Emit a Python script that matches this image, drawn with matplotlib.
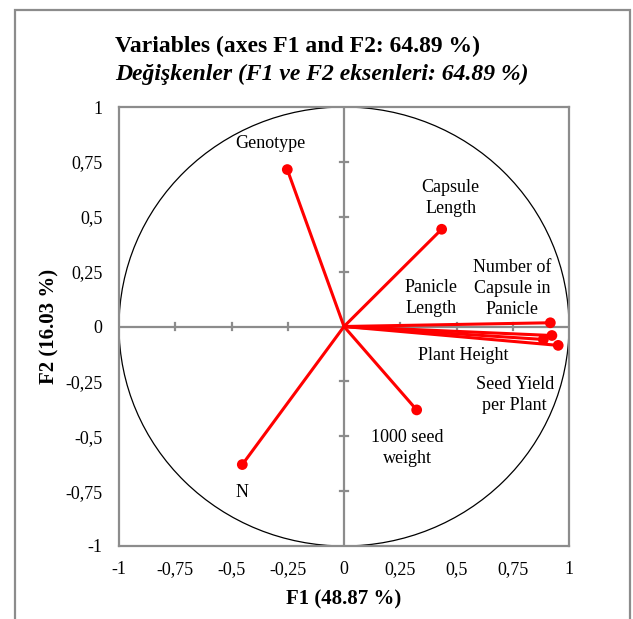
import numpy as np
import matplotlib
matplotlib.use("Agg")
import matplotlib.pyplot as plt
from matplotlib.patches import Circle, Rectangle

plt.rcParams['font.family'] = ['Liberation Serif', 'DejaVu Serif']

# Data
variables = ["Genotype", "Capsule\nLength", "N", "1000 seed\nweight",
             "Number of\nCapsule in\nPanicle", "Plant Height", "Panicle\nLength",
             "Seed Yield\nper Plant"]
f1 = [-0.252, 0.434, -0.452, 0.323, 0.917, 0.924, 0.886, 0.952]
f2 = [0.715, 0.443, -0.629, -0.380, 0.017, -0.041, -0.059, -0.086]
label_x = [-0.327, 0.474, -0.452, 0.283, 0.746, 0.528, 0.385, 0.759]
label_y = [0.833, 0.584, -0.756, -0.552, 0.172, -0.131, 0.131, -0.312]
ticks = [-1, -0.75, -0.5, -0.25, 0, 0.25, 0.5, 0.75, 1]
tick_labels = ["-1", "-0,75", "-0,5", "-0,25", "0", "0,25", "0,5", "0,75", "1"]

W, H = 633, 619
fig = plt.figure(figsize=(W / 100, H / 100), dpi=100)

# outer frame
fig.patches.append(Rectangle((15 / W, -0.05), (630 - 15) / W, 1.05 - 10 / H,
                             transform=fig.transFigure, fill=False,
                             edgecolor='#8c8c8c', linewidth=1.6))

ax = fig.add_axes([119 / W, 1 - 546 / H, 450 / W, 439 / H])
ax.set_xlim(-1, 1)
ax.set_ylim(-1, 1)
for s in ax.spines.values():
    s.set_color('#8c8c8c')
    s.set_linewidth(1.6)

ax.set_xticks(ticks)
ax.set_xticklabels(tick_labels)
ax.set_yticks(ticks)
ax.set_yticklabels(tick_labels)
ax.tick_params(axis='x', length=0, pad=11, labelsize=13)
ax.tick_params(axis='y', length=0, pad=12, labelsize=13)

# center axes
ax.axhline(0, color='#8c8c8c', linewidth=1.6, zorder=1)
ax.axvline(0, color='#8c8c8c', linewidth=1.6, zorder=1)
for t in ticks:
    if t in (-1, 0, 1):
        continue
    ax.plot([t, t], [-0.018, 0.018], color='#8c8c8c', lw=1.6, zorder=1)
    ax.plot([-0.018, 0.018], [t, t], color='#8c8c8c', lw=1.6, zorder=1)

# circle
ax.add_patch(Circle((0, 0), 1, fill=False, edgecolor='black', linewidth=0.9, zorder=2))

# vectors
for x, y in zip(f1, f2):
    ax.plot([0, x], [0, y], color='#ff0000', linewidth=2.2, zorder=3,
            solid_capstyle='round')
ax.scatter(f1, f2, s=60, color='#ff0000', zorder=4, edgecolors='none')

for name, lx, ly in zip(variables, label_x, label_y):
    ax.text(lx, ly, name, ha='center', va='center', fontsize=13,
            linespacing=1.3, zorder=5)

ax.set_xlabel("F1 (48.87 %)", fontsize=15, fontweight='bold', labelpad=8)
ax.set_ylabel("F2 (16.03 %)", fontsize=15, fontweight='bold', labelpad=4)

fig.text(115 / W, 1 - 52 / H, "Variables (axes F1 and F2: 64.89 %)",
         fontsize=17, fontweight='bold', ha='left', va='baseline')
fig.text(115 / W, 1 - 80 / H, "Değişkenler (F1 ve F2 eksenleri: 64.89 %)",
         fontsize=17, fontweight='bold', fontstyle='italic', ha='left', va='baseline')

fig.savefig("out.png", dpi=100)
